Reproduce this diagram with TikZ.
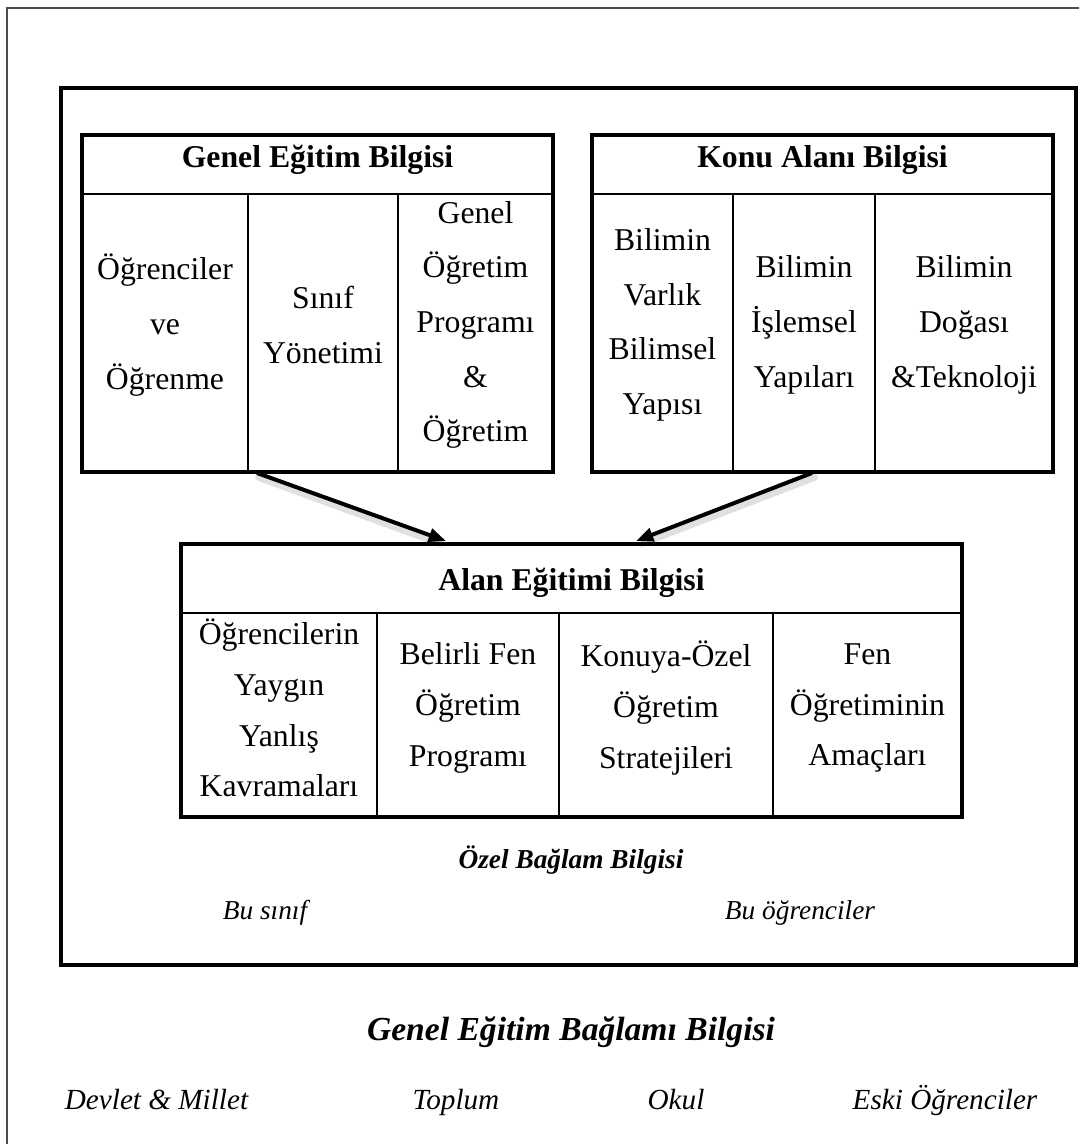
\documentclass[tikz,border=0pt]{standalone}
\usepackage{fontspec}
\setmainfont{Liberation Serif}
\usetikzlibrary{arrows.meta,calc}
\begin{document}
\begin{tikzpicture}[x=0.75pt,y=-0.75pt,
  pageframe/.style={draw=black!70, line width=1.9pt},
  frameline/.style={draw=black, line width=2.3pt},
  boxline/.style={draw=black, line width=3pt},
  cellline/.style={draw=black, line width=1.1pt},
  head/.style={font=\bfseries\fontsize{23.8}{28}\selectfont, anchor=base, inner sep=0pt},
  cell/.style={align=center, font=\fontsize{23.8}{41}\selectfont, inner sep=0pt},
  cellb/.style={align=center, font=\fontsize{23.8}{38}\selectfont, inner sep=0pt},
  ctx/.style={font=\itshape\fontsize{21.9}{26}\selectfont, anchor=base, inner sep=0pt},
  ctxsmall/.style={font=\itshape\fontsize{20.5}{24}\selectfont, anchor=base, inner sep=0pt},
  ctxhead/.style={font=\bfseries\itshape\fontsize{25.2}{30}\selectfont, anchor=base, inner sep=0pt},
  ctxheadsmall/.style={font=\bfseries\itshape\fontsize{20.5}{24}\selectfont, anchor=base, inner sep=0pt},
  flow/.style={line width=3pt, -{Triangle[length=13pt,width=10pt]}},
  flowshadow/.style={line width=6pt, black, opacity=0.12, line cap=round},
]
\useasboundingbox (0,0) rectangle (1079,1144);

% page frame, running past the right and bottom edges
\begin{scope}
  \clip (0,0) rectangle (1079,1144);
  \draw[pageframe] (7,8) rectangle (1095,1165);
\end{scope}

% specific context frame
\draw[frameline] (61,88) rectangle (1076,965);

% ---- General pedagogical knowledge ----
\coordinate (gen-nw) at (82,135);
\coordinate (gen-se) at (553,472);
\draw[boxline] (gen-nw) rectangle (gen-se);
\draw[cellline] (82,194) -- (553,194);
\draw[cellline] (248,194) -- (248,472);
\draw[cellline] (398,194) -- (398,472);
\node[head] (gen-head) at (317.5,168) {Genel Eğitim Bilgisi};
\node[cell] (gen-c1) at (165,325) {Öğrenciler\\ve\\Öğrenme};
\node[cell] (gen-c2) at (323,325) {Sınıf\\Yönetimi};
\node[cell] (gen-c3) at (475.5,325) {Genel\\Öğretim\\Programı\\\&\\Öğretim};

% ---- Subject matter knowledge ----
\coordinate (sub-nw) at (592,135);
\coordinate (sub-se) at (1053,472);
\draw[boxline] (sub-nw) rectangle (sub-se);
\draw[cellline] (592,194) -- (1053,194);
\draw[cellline] (733,194) -- (733,472);
\draw[cellline] (875,194) -- (875,472);
\node[head] (sub-head) at (822.5,168) {Konu Alanı Bilgisi};
\node[cell] (sub-c1) at (662.5,325) {Bilimin\\Varlık\\Bilimsel\\Yapısı};
\node[cell] (sub-c2) at (804,325) {Bilimin\\İşlemsel\\Yapıları};
\node[cell] (sub-c3) at (964,325) {Bilimin\\Doğası\\\&Teknoloji};

% ---- Pedagogical content knowledge ----
\coordinate (pck-nw) at (181,544);
\coordinate (pck-se) at (962,817);
\draw[boxline] (pck-nw) rectangle (pck-se);
\draw[cellline] (181,613) -- (962,613);
\draw[cellline] (377,613) -- (377,817);
\draw[cellline] (559,613) -- (559,817);
\draw[cellline] (773,613) -- (773,817);
\node[head] (pck-head) at (571.5,590) {Alan Eğitimi Bilgisi};
\node[cellb] (pck-c1) at (279,708) {Öğrencilerin\\Yaygın\\Yanlış\\Kavramaları};
\node[cellb] (pck-c2) at (468,708) {Belirli Fen\\Öğretim\\Programı};
\node[cellb] (pck-c3) at (666,708) {Konuya-Özel\\Öğretim\\Stratejileri};
\node[cellb] (pck-c4) at (867.5,708) {Fen\\Öğretiminin\\Amaçları};

% ---- arrows into the PCK box ----
\coordinate (gen-out) at (257,473);
\coordinate (sub-out) at (812,473);
\coordinate (pck-in-l) at (446,541);
\coordinate (pck-in-r) at (636,541);
\draw[flowshadow] ($(gen-out)+(2,4)$) -- ($(pck-in-l)+(-6,2)$);
\draw[flowshadow] ($(sub-out)+(2,4)$) -- ($(pck-in-r)+(6,2)$);
\draw[flow] (gen-out) -- (pck-in-l);
\draw[flow] (sub-out) -- (pck-in-r);

% ---- context labels ----
\node[ctxheadsmall] (spec-head) at (571,868) {Özel Bağlam Bilgisi};
\node[ctxsmall] (spec-1) at (265,919) {Bu sınıf};
\node[ctxsmall] (spec-2) at (800,919) {Bu öğrenciler};

\node[ctxhead] (gen-ctx-head) at (571,1040) {Genel Eğitim Bağlamı Bilgisi};
\node[ctx] (ctx-1) at (156.5,1109) {Devlet \& Millet};
\node[ctx] (ctx-2) at (456,1109) {Toplum};
\node[ctx] (ctx-3) at (676,1109) {Okul};
\node[ctx] (ctx-4) at (945,1109) {Eski Öğrenciler};
\end{tikzpicture}
\end{document}
